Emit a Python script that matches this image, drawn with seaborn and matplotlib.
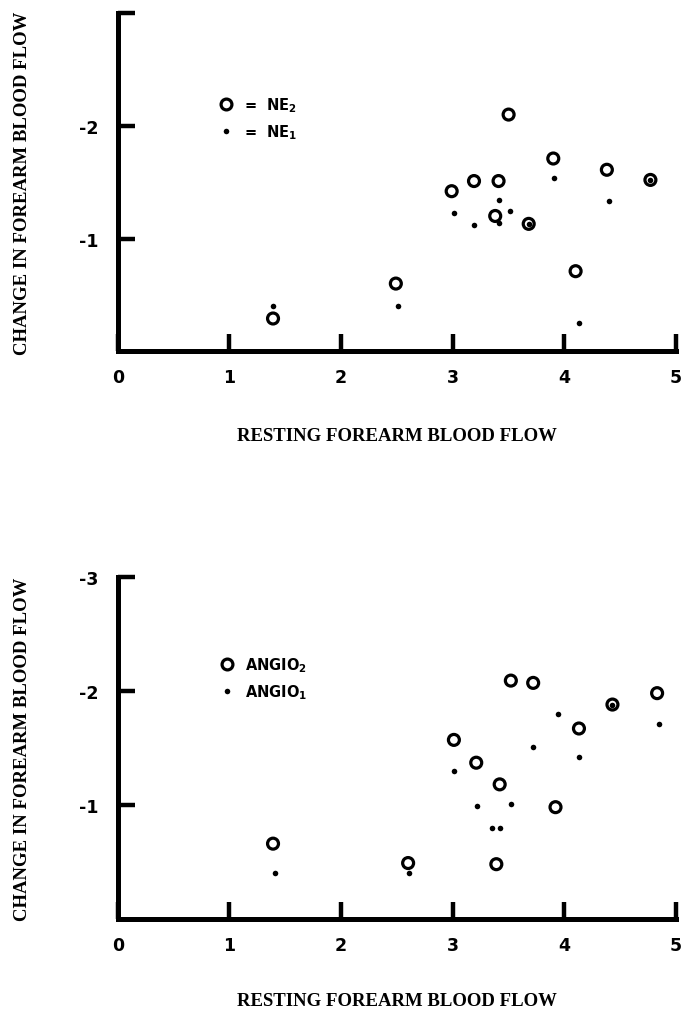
import numpy as np
import matplotlib
matplotlib.use("Agg")
import matplotlib.pyplot as plt
import seaborn as sns
from matplotlib.lines import Line2D

# values (change is negative, drawn upward)
ne2_rest = [1.39, 2.49, 2.99, 3.19, 3.41, 3.38, 3.50, 3.68, 3.90, 4.10, 4.38, 4.77]
ne2_change = [-0.29, -0.60, -1.42, -1.51, -1.51, -1.20, -2.10, -1.13, -1.71, -0.71, -1.61, -1.52]
ne1_rest = [1.39, 2.51, 3.01, 3.19, 3.41, 3.41, 3.51, 3.68, 3.91, 4.13, 4.40, 4.77]
ne1_change = [-0.40, -0.40, -1.23, -1.12, -1.34, -1.14, -1.24, -1.13, -1.54, -0.25, -1.33, -1.52]

angio2_rest = [1.39, 2.60, 3.01, 3.21, 3.42, 3.39, 3.52, 3.72, 3.92, 4.13, 4.43, 4.83]
angio2_change = [-0.66, -0.49, -1.57, -1.37, -1.18, -0.48, -2.09, -2.07, -0.98, -1.67, -1.88, -1.98]
angio1_rest = [1.41, 2.61, 3.01, 3.22, 3.35, 3.42, 3.52, 3.72, 3.94, 4.13, 4.43, 4.85]
angio1_change = [-0.40, -0.40, -1.30, -0.99, -0.80, -0.80, -1.01, -1.51, -1.80, -1.42, -1.88, -1.71]

x_ticks = [0, 1, 2, 3, 4, 5]
x_ticklabels = ["0", "1", "2", "3", "4", "5"]
top_yticks = [-1, -2, -3]
top_yticklabels = ["-1", "-2", ""]
bot_yticks = [-1, -2, -3]
bot_yticklabels = ["-1", "-2", "-3"]

sns.set_style("white")
plt.rcParams["font.family"] = ["DejaVu Sans"]
plt.rcParams["axes.unicode_minus"] = False
plt.rcParams["mathtext.default"] = "regular"
for k in ("text.color", "axes.labelcolor", "xtick.color", "ytick.color", "axes.edgecolor"):
    plt.rcParams[k] = "black"

fig = plt.figure(figsize=(6.85, 10.12), dpi=100)
ax_top = fig.add_axes([0.172, 0.652, 0.815, 0.334])
ax_bot = fig.add_axes([0.172, 0.091, 0.815, 0.338])


def draw_panel(ax, x2, y2, x1, y1, yticks, yticklabels, labels, leg_anchor, xlab_y):
    sns.scatterplot(x=x2, y=y2, ax=ax, s=62, marker="o", facecolor="none",
                    edgecolor="black", linewidth=2.3, zorder=3)
    sns.scatterplot(x=x1, y=y1, ax=ax, s=16, marker="o", color="black",
                    edgecolor="black", linewidth=0, zorder=4)
    ax.set_xlim(0, 5)
    ax.set_ylim(0, -3)
    sns.despine(ax=ax)
    for sp in ("left", "bottom"):
        ax.spines[sp].set_linewidth(3.6)
        ax.spines[sp].set_capstyle("projecting")
    ax.set_xticks(x_ticks)
    ax.set_xticklabels(x_ticklabels)
    ax.set_yticks(yticks)
    ax.set_yticklabels(yticklabels)
    ax.tick_params(axis="both", direction="in", length=12.5, width=3.2,
                   labelsize=12.5, pad=12, color="black", bottom=True, left=True)
    ax.tick_params(axis="y", pad=14)
    for lab in ax.get_xticklabels() + ax.get_yticklabels():
        lab.set_fontweight("semibold")
    ax.set_xlabel("RESTING FOREARM BLOOD FLOW", family="Liberation Serif",
                  fontsize=13.5, fontweight="bold", labelpad=0)
    ax.set_ylabel("CHANGE IN FOREARM BLOOD FLOW", family="Liberation Serif",
                  fontsize=13.5, fontweight="bold")
    ax.xaxis.set_label_coords(0.5, xlab_y)
    ax.yaxis.set_label_coords(-0.156, 0.5)
    ax.grid(False)
    handles = [
        Line2D([], [], ls="none", marker="o", ms=7.8, mfc="none", mec="black", mew=2.3),
        Line2D([], [], ls="none", marker="o", ms=4, mfc="black", mec="black", mew=0),
    ]
    leg = ax.legend(handles, labels, loc="upper left", bbox_to_anchor=leg_anchor,
                    frameon=False, fontsize=10.5, handlelength=1.0, handletextpad=0.7,
                    labelspacing=0.6, borderpad=0, borderaxespad=0)
    for t in leg.get_texts():
        t.set_fontweight("bold")


draw_panel(ax_top, ne2_rest, ne2_change, ne1_rest, ne1_change,
           top_yticks, top_yticklabels,
           ["=  NE$_2$", "=  NE$_1$"], (0.181, 0.758), -0.225)
draw_panel(ax_bot, angio2_rest, angio2_change, angio1_rest, angio1_change,
           bot_yticks, bot_yticklabels,
           ["ANGIO$_2$", "ANGIO$_1$"], (0.183, 0.772), -0.215)

fig.savefig("out.png", dpi=100)
